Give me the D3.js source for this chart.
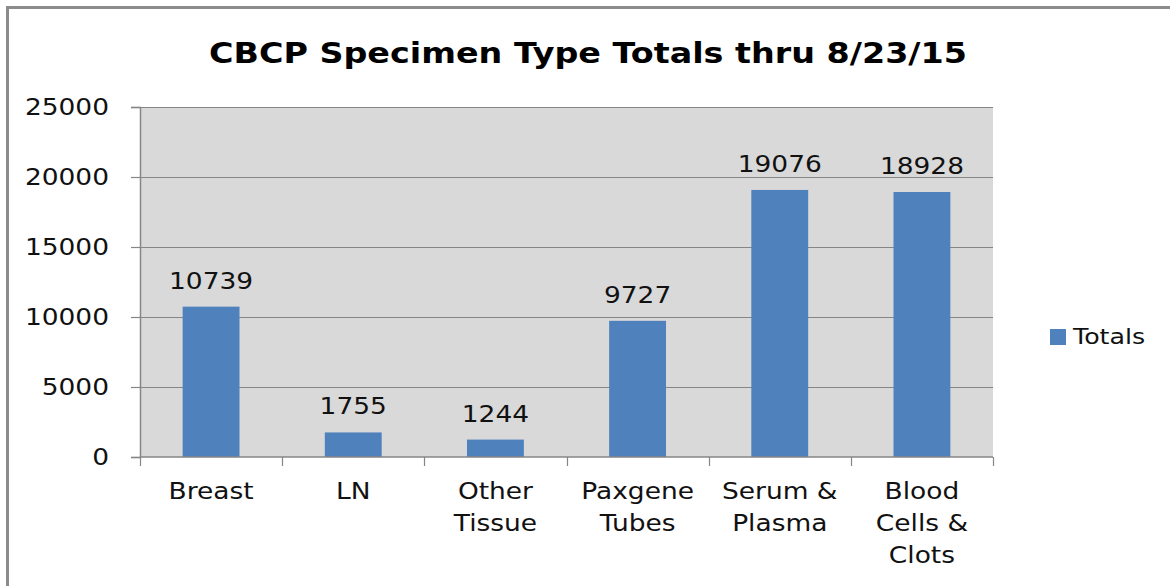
<!DOCTYPE html>
<html>
<head>
<meta charset="utf-8">
<script src="https://cdn.jsdelivr.net/npm/d3@7"></script>
<style>
  html, body { margin: 0; padding: 0; background: #fff; overflow: hidden; }
  svg { display: block; font-family: "DejaVu Sans", sans-serif; }
</style>
</head>
<body>
<div id="chart"></div>
<script>
const categories = [
  ["Breast"],
  ["LN"],
  ["Other", "Tissue"],
  ["Paxgene", "Tubes"],
  ["Serum &", "Plasma"],
  ["Blood", "Cells &", "Clots"],
];
const totals = [10739, 1755, 1244, 9727, 19076, 18928];
const yTicks = [0, 5000, 10000, 15000, 20000, 25000];

const WIDTH = 1170;
const HEIGHT = 586;
const PLOT = { left: 140, right: 993, top: 107, bottom: 457 };
const BAR_COLOR = "#4f81bd";
const SX = 1.15; // the source text is slightly stretched horizontally

const svg = d3.select("#chart")
  .append("svg")
  .attr("width", WIDTH)
  .attr("height", HEIGHT);

// outer chart border (right and bottom edges fall outside the crop)
svg.append("rect")
  .attr("x", 7.5)
  .attr("y", 7.5)
  .attr("width", WIDTH + 20)
  .attr("height", HEIGHT + 20)
  .attr("fill", "#fff")
  .attr("stroke", "#8c8c8c")
  .attr("stroke-width", 3);

svg.append("text")
  .attr("transform", `translate(588,63) scale(${SX},1)`)
  .attr("text-anchor", "middle")
  .attr("font-size", 29)
  .attr("font-weight", "bold")
  .attr("fill", "#000")
  .text("CBCP Specimen Type Totals thru 8/23/15");

const keys = categories.map((c) => c.join(" "));

const x = d3.scaleBand()
  .domain(keys)
  .range([PLOT.left, PLOT.right])
  .paddingInner(0.6)
  .paddingOuter(0.3);

const y = d3.scaleLinear()
  .domain([0, 25000])
  .range([PLOT.bottom, PLOT.top]);

// plot background
svg.append("rect")
  .attr("x", PLOT.left)
  .attr("y", PLOT.top)
  .attr("width", PLOT.right - PLOT.left)
  .attr("height", PLOT.bottom - PLOT.top)
  .attr("fill", "#d9d9d9");

// gridlines
svg.append("g")
  .selectAll("line")
  .data(yTicks.filter((t) => t > 0))
  .join("line")
  .attr("x1", PLOT.left)
  .attr("x2", PLOT.right)
  .attr("y1", (d) => Math.round(y(d)) + 0.5)
  .attr("y2", (d) => Math.round(y(d)) + 0.5)
  .attr("stroke", "#868686")
  .attr("stroke-width", 1.2);

// bars
svg.append("g")
  .selectAll("rect")
  .data(totals)
  .join("rect")
  .attr("x", (d, i) => x(keys[i]))
  .attr("y", (d) => y(d))
  .attr("width", x.bandwidth())
  .attr("height", (d) => y(0) - y(d))
  .attr("fill", BAR_COLOR);

// data labels
svg.append("g")
  .selectAll("text")
  .data(totals)
  .join("text")
  .attr("transform", (d, i) =>
    `translate(${x(keys[i]) + x.bandwidth() / 2},${y(d) - 18}) scale(${SX},1)`)
  .attr("text-anchor", "middle")
  .attr("font-size", 23)
  .attr("fill", "#111")
  .text((d) => d);

// y axis
const yAxis = svg.append("g")
  .attr("transform", `translate(${PLOT.left},0)`)
  .call(d3.axisLeft(y).tickValues(yTicks).tickSize(9).tickPadding(22).tickFormat(d3.format("d")));
yAxis.select(".domain").attr("stroke", "#868686").attr("stroke-width", 1.5);
yAxis.selectAll(".tick line").attr("stroke", "#868686").attr("stroke-width", 1.2);
yAxis.selectAll(".tick text")
  .attr("x", null)
  .attr("transform", `translate(-31,0) scale(${SX},1)`)
  .attr("font-size", 23)
  .attr("font-family", "DejaVu Sans, sans-serif")
  .attr("fill", "#111");

// x axis
const xAxisG = svg.append("g")
  .attr("transform", `translate(0,${PLOT.bottom})`);
xAxisG.append("line")
  .attr("x1", PLOT.left)
  .attr("x2", PLOT.right)
  .attr("stroke", "#868686")
  .attr("stroke-width", 1.5);
const tickEdges = keys.map((k) => x(k) - (x.step() - x.bandwidth()) / 2).concat([PLOT.right]);
xAxisG.selectAll(".xtick")
  .data(tickEdges)
  .join("line")
  .attr("class", "xtick")
  .attr("x1", (d) => Math.round(d) + 0.5)
  .attr("x2", (d) => Math.round(d) + 0.5)
  .attr("y1", 0)
  .attr("y2", 9)
  .attr("stroke", "#868686")
  .attr("stroke-width", 1.2);

const catLabels = xAxisG.selectAll(".xlabel")
  .data(categories)
  .join("text")
  .attr("class", "xlabel")
  .attr("text-anchor", "middle")
  .attr("font-size", 23)
  .attr("fill", "#111")
  .attr("transform", (d, i) =>
    `translate(${x(keys[i]) + x.bandwidth() / 2},42) scale(${SX},1)`);
catLabels.selectAll("tspan")
  .data((d) => d)
  .join("tspan")
  .attr("x", 0)
  .attr("y", (d, i) => i * 32)
  .text((d) => d);

// legend
const legend = svg.append("g").attr("transform", "translate(1050,329)");
legend.append("rect")
  .attr("width", 16)
  .attr("height", 16)
  .attr("fill", BAR_COLOR);
legend.append("text")
  .attr("transform", `translate(23,15) scale(${SX},1)`)
  .attr("font-size", 22)
  .attr("fill", "#111")
  .text("Totals");
</script>
</body>
</html>
